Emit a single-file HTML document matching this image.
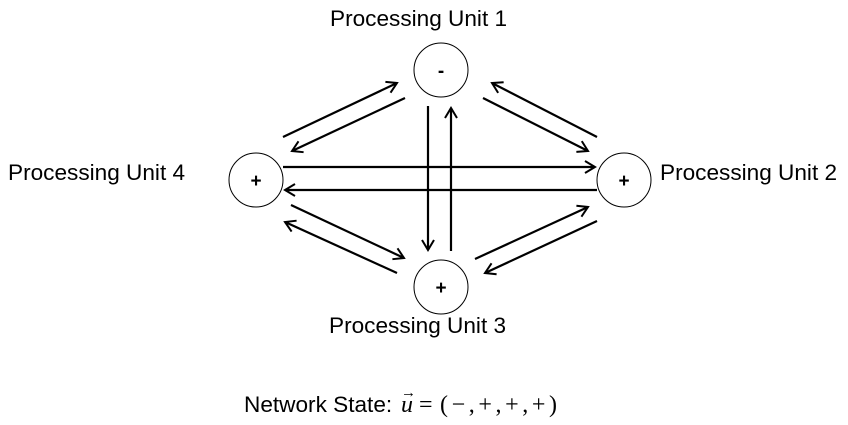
<!DOCTYPE html>
<html><head><meta charset="utf-8"><style>
html,body{margin:0;padding:0;background:#fff;}
svg{display:block;}
text{font-family:"Liberation Sans",Arial,sans-serif;fill:#000;}
</style></head><body>
<svg width="848" height="425" viewBox="0 0 848 425" xmlns="http://www.w3.org/2000/svg">
<defs>
<marker id="a" markerWidth="14" markerHeight="14" refX="11" refY="7" orient="auto" markerUnits="userSpaceOnUse">
<path d="M1,1 L11,7 L1,13" fill="none" stroke="#000" stroke-width="2"/>
</marker>
</defs>
<g fill="none" stroke="#000" stroke-width="1">
<circle cx="441" cy="70" r="27"/>
<circle cx="256" cy="180" r="27"/>
<circle cx="624" cy="180" r="27"/>
<circle cx="441" cy="287" r="27"/>
</g>
<g stroke="#000" stroke-width="2.2" marker-end="url(#a)">
<line x1="283" y1="137" x2="397" y2="83"/>
<line x1="405" y1="98" x2="292" y2="151"/>
<line x1="483" y1="98" x2="588" y2="151"/>
<line x1="597" y1="137" x2="492" y2="83"/>
<line x1="283" y1="167" x2="595" y2="167"/>
<line x1="597" y1="190" x2="285" y2="190"/>
<line x1="428" y1="106" x2="428" y2="250"/>
<line x1="451" y1="251" x2="451" y2="108"/>
<line x1="291" y1="205" x2="404" y2="258"/>
<line x1="397" y1="273" x2="285" y2="222"/>
<line x1="475" y1="259" x2="588" y2="207"/>
<line x1="597" y1="221" x2="485" y2="273"/>
</g>
<g font-size="19" font-weight="bold" text-anchor="middle">
<text x="441" y="77">-</text>
<text x="256" y="187">+</text>
<text x="624" y="187">+</text>
<text x="441" y="294">+</text>
</g>
<g font-size="22.6">
<text x="330" y="26">Processing Unit 1</text>
<text x="8" y="180">Processing Unit 4</text>
<text x="660" y="180">Processing Unit 2</text>
<text x="329" y="333">Processing Unit 3</text>
<text x="244" y="412">Network State:</text>
</g>
<text x="401" y="412" font-size="24" font-style="italic" style="font-family:'Liberation Serif',serif">u</text>
<text x="401" y="397" font-size="15" style="font-family:'Liberation Serif',serif">→</text>
<text x="419" y="412" font-size="24" style="font-family:'Liberation Serif',serif">=</text>
<text x="440" y="412" font-size="24" style="font-family:'Liberation Serif',serif" textLength="117">(−,+,+,+)</text>
</svg>
</body></html>
